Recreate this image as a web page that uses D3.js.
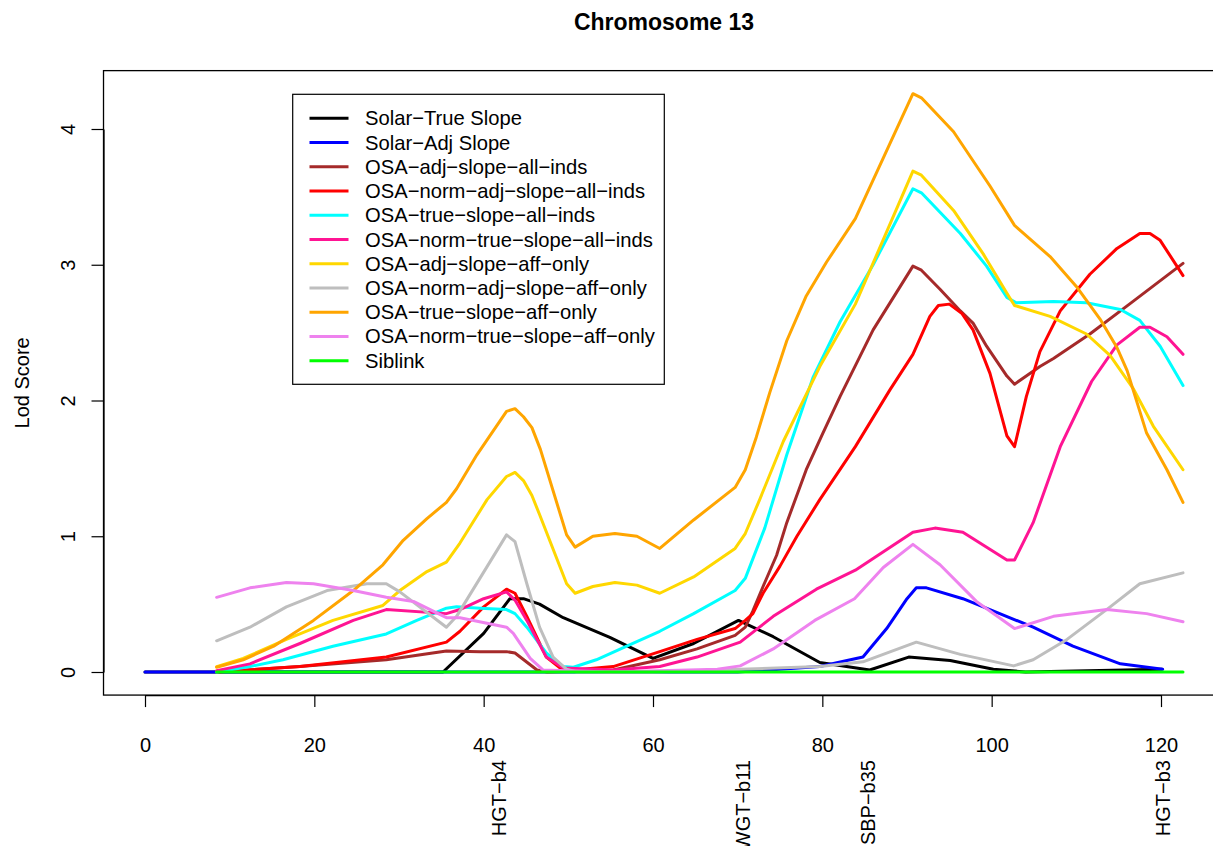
<!DOCTYPE html>
<html>
<head>
<meta charset="utf-8">
<script src="https://cdn.jsdelivr.net/npm/d3@7"></script>
<style>
  html, body { margin: 0; padding: 0; background: #fff; }
  svg text { font-family: "Liberation Sans", Arial, Helvetica, sans-serif; fill: #000; }
</style>
</head>
<body>
<svg id="chart" width="1213" height="846"></svg>
<script>
// ---- data (cM position, LOD score) ----
const solarTrue = [[0,0],[8.46,0],[35.2,0],[40.0,0.285],[43.1,0.54],[44.7,0.54],[46.6,0.50],[49.4,0.40],[54.9,0.255],[60.0,0.10],[64.8,0.21],[70.1,0.38],[74.2,0.26],[79.7,0.07],[85.6,0.015],[90.2,0.11],[95.1,0.085],[100.2,0.02],[104,0.0],[120.1,0.02]];
const solarAdj = [[0,0],[8.46,0],[70,0],[75,0.02],[79.7,0.04],[84.8,0.11],[87.6,0.32],[90.0,0.54],[91.1,0.62],[92.3,0.62],[96.6,0.54],[99.8,0.46],[104.9,0.33],[109.6,0.19],[115.2,0.06],[120.2,0.02]];
const osaAdjAll = [[8.46,0],[18.3,0.04],[28.5,0.09],[35.6,0.155],[39.6,0.15],[42.7,0.15],[43.7,0.14],[46.3,0.015],[47.5,0],[55.3,0.015],[60.8,0.09],[65.2,0.17],[69.7,0.27],[70.9,0.33],[71.8,0.45],[73.0,0.63],[74.6,0.86],[75.8,1.1],[78.1,1.49],[80,1.75],[82.1,2.03],[86,2.52],[90.7,2.99],[91.7,2.96],[93.9,2.82],[96.3,2.66],[97.8,2.57],[99.4,2.40],[101.8,2.18],[102.7,2.12],[105.7,2.25],[107.3,2.31],[111.6,2.49],[116.7,2.73],[122.6,3.01]];
const osaNormAdjAll = [[8.46,0],[18.3,0.04],[28.5,0.11],[35.6,0.22],[37.2,0.30],[40.0,0.48],[42.7,0.61],[43.7,0.58],[45.1,0.41],[47.4,0.11],[49.0,0.03],[50.6,0.015],[55.3,0.04],[60.8,0.15],[65.2,0.24],[69.7,0.32],[70.9,0.38],[71.8,0.43],[73.0,0.58],[75.0,0.78],[77.0,1.00],[79.7,1.27],[83.9,1.66],[88.0,2.08],[90.7,2.34],[92.7,2.62],[93.7,2.70],[95.0,2.71],[96.5,2.64],[97.8,2.52],[99.8,2.2],[101.8,1.74],[102.7,1.66],[104.1,2.03],[105.7,2.36],[108.1,2.66],[111.6,2.93],[114.8,3.12],[117.5,3.23],[118.7,3.23],[119.9,3.18],[122.6,2.92]];
const osaTrueAll = [[8.46,0],[12.4,0.04],[16.3,0.09],[22.2,0.19],[28.5,0.28],[32.1,0.38],[35.6,0.47],[36.8,0.48],[39.6,0.47],[42.7,0.46],[43.7,0.43],[45.1,0.33],[47.4,0.14],[49.4,0.04],[50.6,0.035],[53.3,0.09],[56.9,0.19],[60.8,0.30],[64.8,0.43],[69.7,0.60],[70.9,0.69],[73.2,1.06],[75.8,1.6],[78.9,2.17],[82.1,2.58],[86.0,3.0],[90.7,3.56],[91.7,3.53],[96.3,3.23],[99.4,2.99],[101.8,2.76],[102.9,2.72],[107.3,2.73],[111.2,2.72],[115.2,2.67],[117.5,2.59],[119.9,2.40],[122.6,2.11]];
const osaNormTrueAll = [[8.46,0.01],[12.4,0.06],[18.3,0.21],[24.6,0.38],[28.5,0.46],[35.6,0.43],[37.2,0.46],[40.0,0.54],[42.7,0.59],[43.7,0.53],[45.1,0.38],[47.4,0.11],[49.4,0.03],[55.3,0.015],[60.8,0.04],[65.2,0.11],[70.3,0.22],[74.2,0.41],[79.3,0.61],[83.9,0.75],[90.7,1.03],[93.3,1.06],[96.6,1.03],[101.8,0.825],[102.7,0.825],[104.9,1.10],[108.1,1.66],[111.8,2.14],[114.8,2.41],[117.5,2.54],[118.7,2.54],[120.7,2.47],[122.6,2.34]];
const osaAdjAff = [[8.46,0.04],[11.6,0.10],[16.7,0.24],[22.2,0.38],[28.1,0.49],[30.1,0.60],[33.3,0.74],[35.6,0.81],[37.2,0.95],[40.4,1.27],[42.7,1.44],[43.7,1.47],[44.7,1.41],[45.7,1.30],[46.6,1.16],[49.8,0.65],[50.8,0.58],[52.9,0.63],[55.5,0.66],[58.1,0.64],[60.8,0.58],[64.8,0.70],[69.7,0.91],[70.9,1.02],[72.6,1.27],[75.4,1.70],[79.7,2.25],[83.9,2.71],[90.7,3.69],[91.7,3.66],[95.5,3.40],[99.0,3.08],[101.8,2.79],[102.7,2.70],[106.9,2.62],[111.2,2.49],[114.0,2.33],[116.7,2.09],[119.1,1.81],[122.6,1.49]];
const osaNormAdjAff = [[8.46,0.23],[12.4,0.33],[16.7,0.48],[21.5,0.60],[26.2,0.65],[28.5,0.65],[30.1,0.59],[35.6,0.33],[36.8,0.41],[42.7,1.01],[43.7,0.96],[45.1,0.65],[46.6,0.33],[48.2,0.11],[49.8,0.02],[51,0],[60,0.0],[70.3,0.02],[79.7,0.04],[84.8,0.075],[91.1,0.22],[96.3,0.13],[102.6,0.045],[104.9,0.09],[108.9,0.24],[114.0,0.48],[117.5,0.65],[122.6,0.73]];
const osaTrueAff = [[8.46,0.035],[11.6,0.09],[15.2,0.19],[19.9,0.38],[24.6,0.60],[28.1,0.79],[30.5,0.97],[33.3,1.13],[35.6,1.25],[36.8,1.35],[39.2,1.60],[42.7,1.92],[43.7,1.94],[44.7,1.88],[45.7,1.80],[46.7,1.64],[49.8,1.01],[50.8,0.92],[52.9,1.00],[55.5,1.02],[58.1,1.00],[60.8,0.91],[64.8,1.12],[69.7,1.36],[70.9,1.49],[72.2,1.73],[73.8,2.06],[75.8,2.44],[78.1,2.77],[80.5,3.02],[83.9,3.34],[90.7,4.26],[91.7,4.23],[95.5,3.98],[99.8,3.58],[102.7,3.29],[106.9,3.06],[110.0,2.84],[112.8,2.60],[114.8,2.39],[116.0,2.22],[118.3,1.76],[120.7,1.49],[122.6,1.25]];
const osaNormTrueAff = [[8.46,0.55],[12.4,0.62],[16.7,0.66],[19.9,0.65],[24.6,0.60],[28.5,0.55],[31.7,0.52],[35.6,0.40],[37.2,0.40],[42.7,0.33],[43.5,0.285],[45.5,0.10],[47.0,0.015],[55,0.0],[67.6,0.02],[70.3,0.045],[74.2,0.17],[79.1,0.38],[83.8,0.54],[87.2,0.77],[90.7,0.94],[93.9,0.79],[98.2,0.52],[102.7,0.32],[107.3,0.41],[113.6,0.46],[118.3,0.43],[122.6,0.37]];
const siblink = [[8.46,0],[122.6,0]];

const seriesNames = ["Solar\u2212True Slope","Solar\u2212Adj Slope","OSA\u2212adj\u2212slope\u2212all\u2212inds","OSA\u2212norm\u2212adj\u2212slope\u2212all\u2212inds","OSA\u2212true\u2212slope\u2212all\u2212inds","OSA\u2212norm\u2212true\u2212slope\u2212all\u2212inds","OSA\u2212adj\u2212slope\u2212aff\u2212only","OSA\u2212norm\u2212adj\u2212slope\u2212aff\u2212only","OSA\u2212true\u2212slope\u2212aff\u2212only","OSA\u2212norm\u2212true\u2212slope\u2212aff\u2212only","Siblink"];
const seriesData = [solarTrue, solarAdj, osaAdjAll, osaNormAdjAll, osaTrueAll, osaNormTrueAll, osaAdjAff, osaNormAdjAff, osaTrueAff, osaNormTrueAff, siblink];
const seriesColors = ["#000000","#0000FF","#A52A2A","#FF0000","#00FFFF","#FF1493","#FFD700","#BEBEBE","#FFA500","#EE82EE","#00FF00"];

const xTicks = [0,20,40,60,80,100,120];
const yTicks = [0,1,2,3,4];
const markerNames = ["HGT\u2212b4","WGT\u2212b11","SBP\u2212b35","HGT\u2212b3"];
const markerPos = [41.87,70.66,85.39,120.2];

// ---- drawing ----
const svg = d3.select("#chart");
const x = d3.scaleLinear().domain([0,120]).range([145,1161]);
const y = d3.scaleLinear().domain([0,4]).range([672,129]);
const box = {x0: x(-4.9), x1: x(127.5), y0: y(4.43), y1: y(-0.17)};

// title
svg.append("text").attr("x", (box.x0+box.x1)/2).attr("y", 30)
  .attr("text-anchor","middle").style("font-weight","bold").style("font-size","23px")
  .text("Chromosome 13");

// lines
const line = d3.line().x(d=>x(d[0])).y(d=>y(d[1]));
const plot = svg.append("g");
seriesData.forEach((s,i)=>{
  plot.append("path").attr("d", line(s)).attr("fill","none")
    .attr("stroke", seriesColors[i]).attr("stroke-width",3)
    .attr("stroke-linejoin","round").attr("stroke-linecap","round");
});

// box
svg.append("rect").attr("x",box.x0).attr("y",box.y0)
  .attr("width",box.x1-box.x0).attr("height",box.y1-box.y0)
  .attr("fill","none").attr("stroke","#000").attr("stroke-width",1.3);

// x axis
const xa = svg.append("g").attr("transform",`translate(0,${box.y1})`)
  .call(d3.axisBottom(x).tickValues(xTicks).tickSize(12).tickSizeOuter(0).tickFormat(d3.format("d")));
xa.select(".domain").attr("stroke","#000").attr("stroke-width",1.2);
xa.selectAll(".tick line").attr("stroke","#000").attr("stroke-width",1.2);
xa.selectAll("text").style("font-size","20px").attr("font-family",null).attr("dy",null).attr("y",57);

// y axis
const ya = svg.append("g").attr("transform",`translate(${box.x0},0)`)
  .call(d3.axisLeft(y).tickValues(yTicks).tickSize(12).tickSizeOuter(0).tickFormat(d3.format("d")));
ya.select(".domain").attr("stroke","#000").attr("stroke-width",1.2);
ya.selectAll(".tick line").attr("stroke","#000").attr("stroke-width",1.2);
ya.selectAll("text").style("font-size","20px").attr("font-family",null)
  .attr("x",null).attr("dy",null).attr("text-anchor","middle")
  .attr("transform",`translate(${75-box.x0},0) rotate(-90)`);

// y label
svg.append("text").attr("transform",`translate(29,${(box.y0+box.y1)/2}) rotate(-90)`)
  .attr("text-anchor","middle").style("font-size","20px").text("Lod Score");

// marker labels
markerNames.forEach((m,i)=>{
  svg.append("text").attr("transform",`translate(${x(markerPos[i])+7},760) rotate(-90)`)
    .attr("text-anchor","end").style("font-size","20px").text(m);
});

// legend
const lg = svg.append("g");
lg.append("rect").attr("x",292.7).attr("y",94.3).attr("width",371.6).attr("height",290)
  .attr("fill","#fff").attr("stroke","#000").attr("stroke-width",1.2);
seriesNames.forEach((n,i)=>{
  const yy = 118.3 + i*24.24;
  lg.append("line").attr("x1",309.5).attr("x2",348.5).attr("y1",yy).attr("y2",yy)
    .attr("stroke",seriesColors[i]).attr("stroke-width",3);
  lg.append("text").attr("x",365).attr("y",yy+7).style("font-size","20.2px").text(n);
});
</script>
</body>
</html>
